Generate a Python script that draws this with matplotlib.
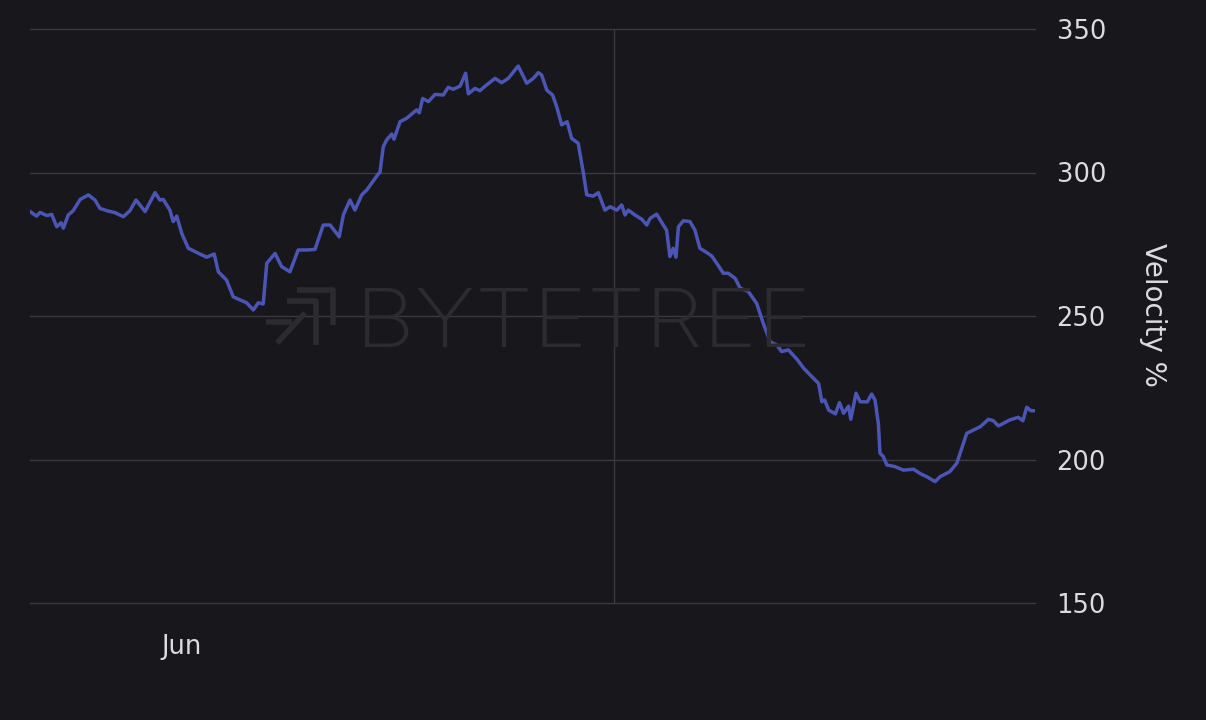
import numpy as np
import matplotlib
matplotlib.use("Agg")
import matplotlib.pyplot as plt
from matplotlib.textpath import TextPath
from matplotlib.patches import PathPatch
from matplotlib.font_manager import FontProperties
from matplotlib.transforms import Affine2D, IdentityTransform
from matplotlib.lines import Line2D

# days since start of window, velocity %
days = [0, 2.4, 3.6, 6.1, 7.9, 9.7, 11.3, 12.1, 13.9, 15.7, 18.2, 21.2, 23.6, 25.4, 27.9,
        30.9, 33.9, 36.3, 38.5, 41.8, 45.4, 47.2, 48.4, 50.8, 52, 53.3, 55.1, 57.5, 61.7,
        64.2, 66.9, 68.4, 71.4, 73.8, 76.3, 78.7, 81.1, 82.9, 84.7, 86, 89, 91.4, 94.4,
        97.4, 100.5, 103.5, 106.5, 109, 112.3, 113.8, 116.2, 118, 120.5, 122.3, 126.5,
        127.1, 128.3, 129.5, 131.4, 132.2, 134.4, 136.8, 140.4, 141.4, 142.6, 144.7,
        147.1, 150.1, 151.9, 153.7, 156.2, 158.2, 159.2, 161.6, 163.4, 165.3, 168.9,
        171.3, 173.7, 177.3, 180.4, 182.8, 184.6, 185.8, 187.7, 189.8, 191.3, 193.1,
        195.1, 196.7, 199.1, 201, 202.2, 204.6, 206.4, 208.8, 210.7, 213.1, 214.9,
        216.1, 217.3, 219.7, 222.2, 224, 225.2, 227.6, 230, 231.2, 232.4, 233.6, 234.6,
        235.5, 237.3, 239.7, 241.5, 243.3, 245.8, 247.6, 249.4, 251.8, 253.6, 256.1,
        257.9, 260.9, 263.9, 266.3, 268.8, 271.2, 273, 275.4, 278.5, 281, 283.4, 286.4,
        287.6, 288.6, 290.1, 292.5, 294, 295.5, 297.3, 298.1, 300, 301.5, 304.1, 305.7,
        306.9, 308.1, 308.7, 309.9, 311.2, 314.2, 317.2, 320.9, 323.3, 325.7, 328.7,
        330.5, 334.1, 336.6, 338.4, 340.2, 342.7, 345.1, 348.1, 349.9, 351.7, 353.5,
        355.9, 358.9, 360.6, 362, 363.5, 365]
velocity = [286.4, 284.8, 286.1, 285, 285.4, 281.1, 282.5, 280.6, 285.2, 286.7, 290.6,
            292.2, 290.4, 287.5, 286.7, 286, 284.6, 286.7, 290.4, 286.4, 293, 290.4, 290.6,
            286.9, 282.9, 284.8, 278.8, 273.6, 271.6, 270.5, 271.6, 265.4, 262.5, 256.7,
            255.6, 254.6, 252.1, 254.6, 254.2, 268.4, 271.8, 267.2, 265.4, 273, 273, 273.2,
            281.7, 281.7, 277.6, 285.2, 290.4, 286.9, 292.2, 293.9, 299.5, 300, 309, 311.3,
            313.4, 311.6, 317.7, 318.9, 321.8, 320.8, 325.8, 324.7, 327.2, 327, 329.7, 329,
            330.1, 334.6, 327.4, 329.3, 328.5, 330.1, 332.8, 331.3, 332.8, 337.1, 331.1,
            332.8, 334.8, 334, 328.7, 327, 322.9, 316.6, 317.7, 311.9, 310.2, 299.7, 292.2,
            291.8, 293, 286.9, 288.1, 286.9, 288.7, 285.2, 286.9, 285.2, 283.7, 281.7, 284,
            285.5, 281.7, 279.9, 270.7, 273.6, 270.5, 281.1, 283.2, 282.9, 279.9, 273.6,
            272.1, 270.9, 268.4, 264.9, 264.9, 263.1, 259.7, 258.5, 254.4, 247.5, 241,
            239.9, 237.6, 238.2, 235, 231.8, 229.4, 226.5, 220.1, 220.7, 217.2, 215.9,
            219.8, 216.1, 218.6, 214, 223.1, 220.1, 220.1, 222.8, 220.7, 212.6, 202.2, 201,
            198.1, 197.5, 196.3, 196.6, 195.1, 194, 192.3, 194, 195.8, 198.7, 203.9, 209.1,
            210.3, 211.4, 214, 213.5, 211.7, 212.6, 213.8, 214.7, 213.5, 218.2, 217, 217]

yticks = [150, 200, 250, 300, 350]
month_tick = 55.2
month_label = "Jun"
marker_day = 212.1

bg = "#17171c"
grid_col = "#3a3a40"
text_col = "#dcdce0"
line_col = "#4b55b5"
wm_col = "#2b2b30"

plt.rcParams['font.family'] = ['DejaVu Sans']

W, H = 1206, 720
fig = plt.figure(figsize=(W / 100, H / 100), dpi=100, facecolor=bg)
ax = fig.add_axes([30 / W, 117 / H, 1005 / W, 574 / H])
ax.set_facecolor(bg)

# --- watermark (BYTETREE logo + wordmark), pixel coords, top-left origin ---
tp = TextPath((0, 0), "BYTETREE", size=100,
              prop=FontProperties(family="Inter", weight="light"))
ext = tp.get_extents()
box_x0, box_x1, box_top, box_bot = 365, 805, 288, 347
sx = (box_x1 - box_x0) / ext.width
sy = (box_bot - box_top) / ext.height
tr = Affine2D().translate(-ext.x0, -ext.y0).scale(sx, sy).translate(box_x0, H - box_bot)
fig.patches.append(PathPatch(tr.transform_path(tp), facecolor=wm_col, edgecolor="none",
                             transform=IdentityTransform(), zorder=0))
logo = [[(297, 290), (333, 290), (333, 325)],
        [(287, 301), (316, 301), (316, 345)],
        [(266, 322), (292, 322)],
        [(277, 343), (305, 313)]]
for seg in logo:
    xs = [p[0] for p in seg]
    ys = [H - p[1] for p in seg]
    fig.lines.append(Line2D(xs, ys, color=wm_col, lw=4, transform=IdentityTransform(),
                            zorder=0, solid_capstyle="butt"))

ax.plot(days, velocity, color=line_col, lw=2.5, zorder=3, solid_joinstyle="round")
ax.axvline(marker_day, color=grid_col, lw=1, zorder=1)

ax.set_xlim(0, 365)
ax.set_ylim(150, 350)
ax.set_yticks(yticks)
ax.yaxis.tick_right()
ax.grid(axis="y", color=grid_col, lw=1)
for gl in ax.yaxis.get_gridlines():
    gl.set_clip_on(False)
ax.set_xticks([month_tick])
ax.set_xticklabels([month_label])
ax.tick_params(axis="both", length=0, colors=text_col)
ax.tick_params(axis="y", pad=15.5, labelsize=18.5)
ax.tick_params(axis="x", pad=22, labelsize=18.5)
fig.text(1153 / W, 1 - 315 / H, "Velocity %", color=text_col, fontsize=20,
         rotation=270, ha="center", va="center")
for s in ax.spines.values():
    s.set_visible(False)

fig.savefig("out.png", dpi=100, facecolor=bg)
